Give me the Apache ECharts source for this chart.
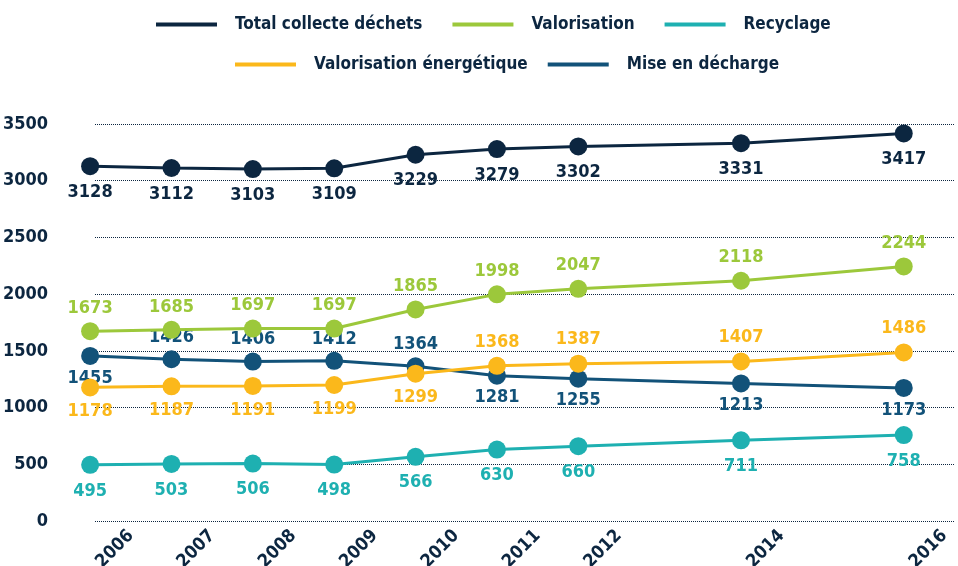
<!DOCTYPE html>
<html>

<head>
    <title>Collecte et traitement des déchets</title>
    <meta charset="utf-8" />
    <script src="https://cdn.jsdelivr.net/npm/echarts@6/dist/echarts.min.js"></script>
    <style type="text/css">
        html,
        body {
            width: 100%;
            height: 100%;
            margin: 0;
            background: #ffffff;
        }

        #chart {
            width: 958px;
            height: 566px;
        }
    </style>
</head>

<body>
    <div id="chart"></div>
    <script>
        // années et valeurs (milliers de tonnes)
        var years = [2006, 2007, 2008, 2009, 2010, 2011, 2012, 2014, 2016];
        var totalCollecte = [3128, 3112, 3103, 3109, 3229, 3279, 3302, 3331, 3417];
        var valorisation = [1673, 1685, 1697, 1697, 1865, 1998, 2047, 2118, 2244];
        var recyclage = [495, 503, 506, 498, 566, 630, 660, 711, 758];
        var valoEnergetique = [1178, 1187, 1191, 1199, 1299, 1368, 1387, 1407, 1486];
        var miseEnDecharge = [1455, 1426, 1406, 1412, 1364, 1281, 1255, 1213, 1173];
        var yTicks = [0, 500, 1000, 1500, 2000, 2500, 3000, 3500];

        var FONT = "'DejaVu Sans Condensed'";
        var NAVY = '#0c2640';

        function pairs(values) {
            return values.map(function (v, i) {
                return [years[i], v];
            });
        }

        function makeSeries(name, values, color, posFn, dist, z) {
            return {
                name: name,
                type: 'line',
                z: z,
                clip: false,
                symbol: 'circle',
                symbolSize: 18,
                lineStyle: { width: 3, color: color },
                itemStyle: { color: color },
                data: pairs(values).map(function (p, i) {
                    return {
                        value: p,
                        label: { position: posFn(i) }
                    };
                }),
                label: {
                    show: true,
                    distance: dist,
                    color: color,
                    fontFamily: FONT,
                    fontWeight: 'bold',
                    fontSize: 18,
                    formatter: function (p) {
                        return p.value[1];
                    }
                }
            };
        }

        var chart = echarts.init(document.getElementById('chart'));

        var legendText = {
            color: NAVY,
            fontFamily: FONT,
            fontWeight: 'bold',
            fontSize: 17,
            padding: [0, 0, 0, 13]
        };

        var option = {
            animation: false,
            legend: [{
                top: 11,
                left: 151,
                icon: 'rect',
                itemWidth: 61,
                itemHeight: 4,
                itemGap: 30,
                textStyle: legendText,
                data: ['Total collecte déchets', 'Valorisation', 'Recyclage']
            }, {
                top: 51,
                left: 230,
                icon: 'rect',
                itemWidth: 61,
                itemHeight: 4,
                itemGap: 20,
                textStyle: legendText,
                data: ['Valorisation énergétique', 'Mise en décharge']
            }],
            grid: {
                left: 95,
                right: 3,
                top: 124,
                bottom: 45,
                containLabel: false,
                outerBoundsMode: 'none'
            },
            xAxis: {
                type: 'value',
                min: 2006.06,
                max: 2016.63,
                axisLine: { show: false },
                axisTick: { show: false },
                splitLine: { show: false },
                axisLabel: {
                    customValues: years.map(function (y) { return y + 0.5; }),
                    formatter: function (v) {
                        return String(Math.round(v - 0.5));
                    },
                    rotate: 45,
                    margin: 12,
                    color: NAVY,
                    fontFamily: FONT,
                    fontWeight: 'bold',
                    fontSize: 18
                }
            },
            yAxis: {
                type: 'value',
                min: yTicks[0],
                max: yTicks[yTicks.length - 1],
                interval: 500,
                axisLine: { show: false },
                axisTick: { show: false },
                splitLine: {
                    lineStyle: { color: NAVY, type: [1, 1], width: 1 }
                },
                axisLabel: {
                    margin: 47,
                    color: NAVY,
                    fontFamily: FONT,
                    fontWeight: 'bold',
                    fontSize: 18,
                    formatter: function (v) {
                        return String(v);
                    }
                }
            },
            series: [
                makeSeries('Total collecte déchets', totalCollecte, NAVY,
                    function () { return 'bottom'; }, 8, 5),
                makeSeries('Valorisation', valorisation, '#9cc83b',
                    function () { return 'top'; }, 5, 4),
                makeSeries('Recyclage', recyclage, '#1eb0b1',
                    function () { return 'bottom'; }, 8, 3),
                makeSeries('Valorisation énergétique', valoEnergetique, '#fbb81b',
                    function (i) { return i < 5 ? 'bottom' : 'top'; }, 6, 3),
                makeSeries('Mise en décharge', miseEnDecharge, '#125279',
                    function (i) { return (i === 0 || i > 4) ? 'bottom' : 'top'; }, 4, 2)
            ]
        };

        chart.setOption(option);
    </script>
</body>

</html>
